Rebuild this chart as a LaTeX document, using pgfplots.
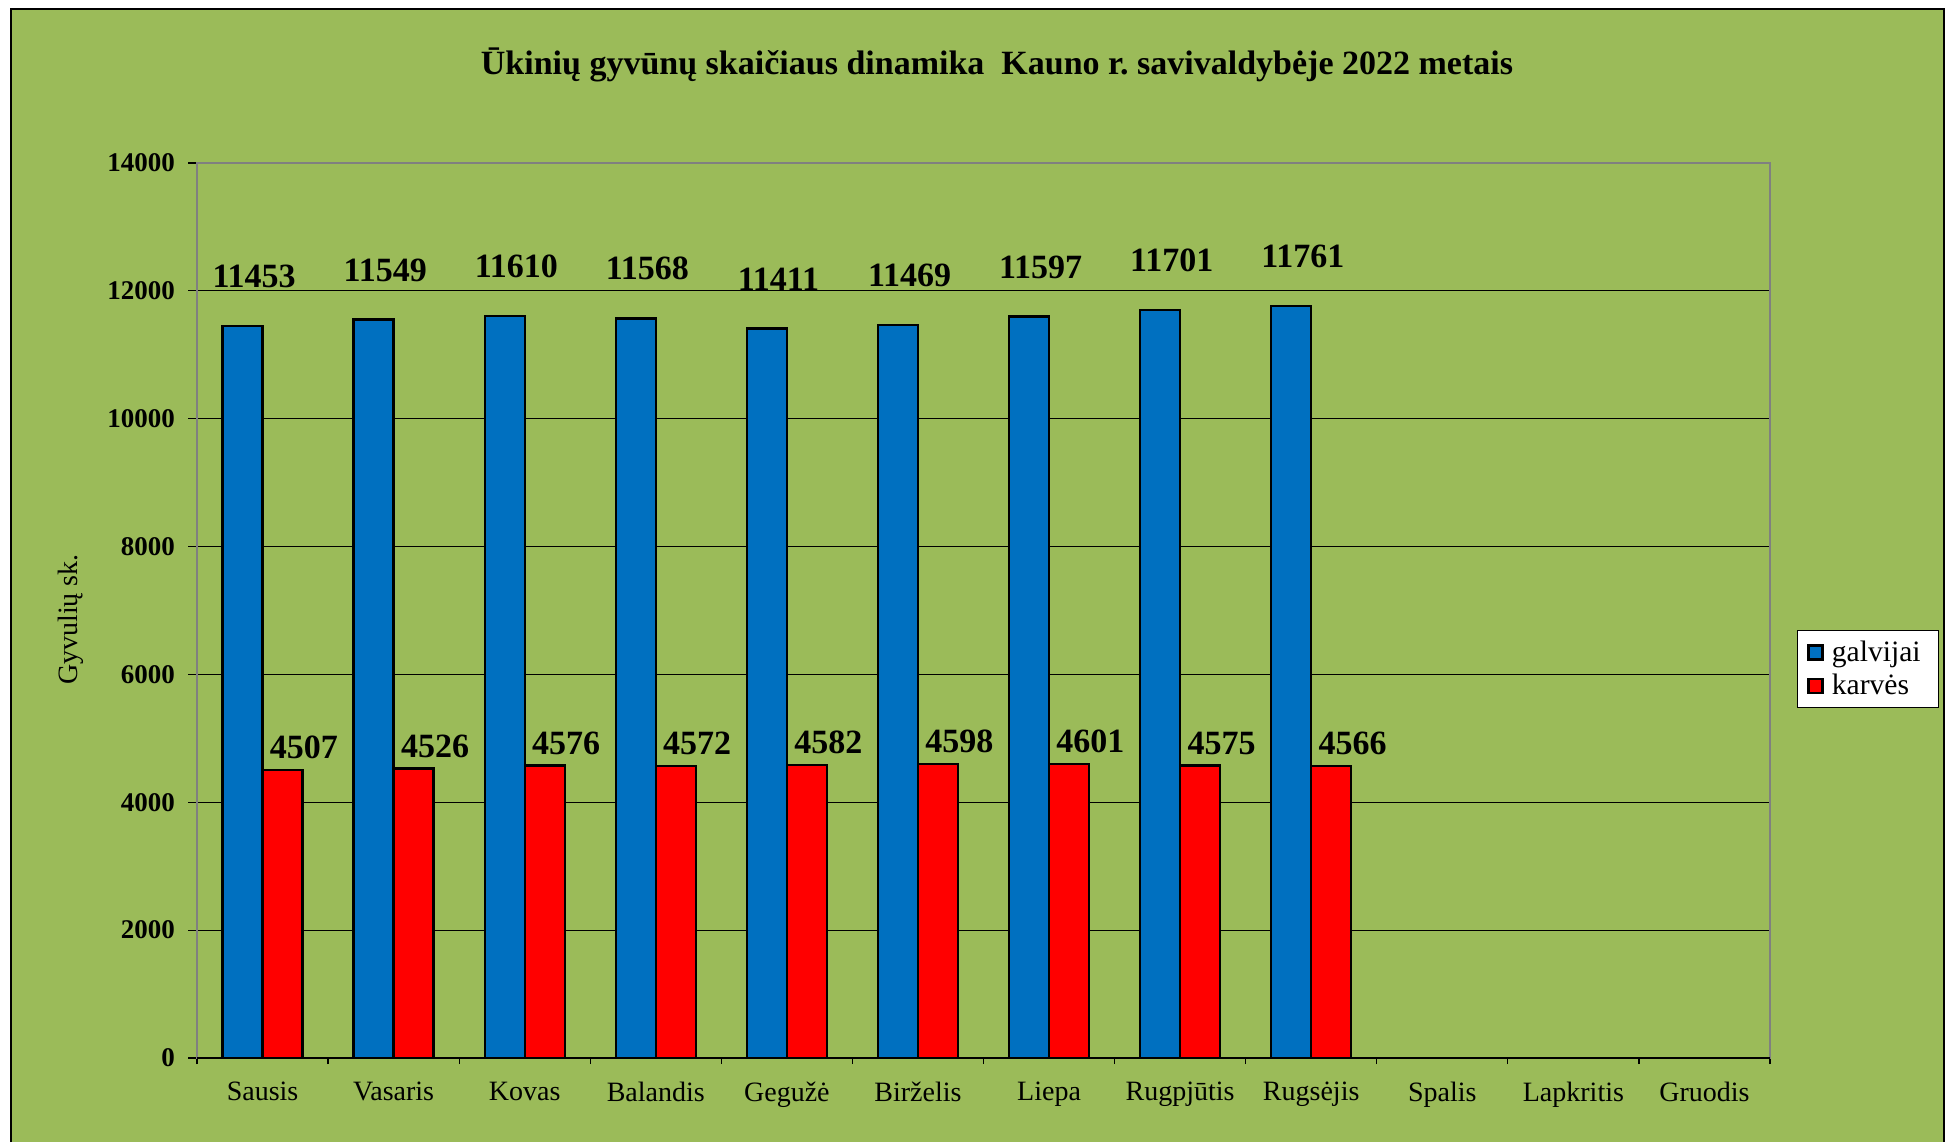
\documentclass[border=0pt]{standalone}
\usepackage{fontspec}
\setmainfont{Liberation Serif}
\usepackage{pgfplots}
\pgfplotsset{compat=1.18}
\definecolor{bg}{HTML}{9BBB59}
\definecolor{cblue}{HTML}{0070C0}
\definecolor{cred}{HTML}{FF0000}
\definecolor{axgrey}{HTML}{808080}
\begin{document}
\begin{tikzpicture}[x=1pt,y=1pt]
\path[use as bounding box] (0,0) rectangle (976,571);
\fill[bg] (5.5,0) rectangle (972,566.5);
\draw[black, line width=1pt] (5.5,0) -- (5.5,566.5) -- (972,566.5) -- (972,0);
\begin{axis}[
  at={(98.5pt,42pt)}, anchor=south west,
  scale only axis, width=786.5pt, height=447.5pt,
  ybar=0pt, bar width=20pt,
  xmin=-0.5, xmax=11.5, ymin=0, ymax=14000,
  xtick={0,...,11},
  xticklabels={Sausis,Vasaris,Kovas,Balandis,Gegužė,Birželis,Liepa,Rugpjūtis,Rugsėjis,Spalis,Lapkritis,Gruodis},
  minor xtick={-0.5,0.5,...,11.5},
  ytick={0,2000,...,14000},
  scaled y ticks=false,
  xtick pos=bottom, ytick pos=left,
  tick align=outside,
  major x tick style={draw=none},
  major tick length=4.5pt, minor tick length=3pt,
  tick style={black, line width=0.6pt},
  axis line style={axgrey, line width=1.2pt},
  ymajorgrids, major grid style={black, line width=0.6pt},
  /pgf/number format/1000 sep={},
  /pgf/number format/assume math mode=true,
  yticklabel style={font=\fontsize{13.5}{15}\selectfont\bfseries, xshift=-3pt},
  xticklabel style={font=\fontsize{14}{16}\selectfont, yshift=-4pt},
  ylabel={Gyvulių sk.},
  ylabel style={font=\fontsize{14}{16}\selectfont, at={(axis description cs:-0.080,0.49)}, anchor=center},
  title={Ūkinių\ gyvūnų\ skaičiaus\ dinamika\ \ Kauno\ r.\ savivaldybėje\ 2022\ metais},
  title style={font=\fontsize{17}{20}\selectfont\bfseries, at={(axis description cs:0.5,1)}, anchor=base, yshift=38pt, xshift=6.75pt},
  legend style={at={(1.0172,0.391)}, anchor=south west, draw=black, fill=white,
    font=\fontsize{14.8}{17}\selectfont, row sep=1pt, inner xsep=5pt, inner ysep=3pt,
    nodes={inner xsep=4pt}},
  legend cell align=left,
  legend image code/.code={\draw[#1, draw=black, line width=1.2pt] (0pt,-3.5pt) rectangle (7pt,3.5pt);},
  extra description/.code={\draw[black, line width=0.8pt] (rel axis cs:0,0) -- (rel axis cs:1,0);},
]
\addplot[fill=cblue, draw=black, line width=1.2pt,
  nodes near coords,
  every node near coord/.append style={font=\fontsize{17}{19}\selectfont\bfseries, anchor=south, inner sep=0pt, yshift=18.5pt, xshift=5.8pt}]
  coordinates {(0,11453) (1,11549) (2,11610) (3,11568) (4,11411) (5,11469) (6,11597) (7,11701) (8,11761)};
\addplot[fill=cred, draw=black, line width=1.2pt,
  nodes near coords,
  every node near coord/.append style={font=\fontsize{17}{19}\selectfont\bfseries, anchor=south, inner sep=0pt, yshift=4.8pt, xshift=10.7pt}]
  coordinates {(0,4507) (1,4526) (2,4576) (3,4572) (4,4582) (5,4598) (6,4601) (7,4575) (8,4566)};
\legend{galvijai,karvės}
\end{axis}
\end{tikzpicture}
\end{document}
